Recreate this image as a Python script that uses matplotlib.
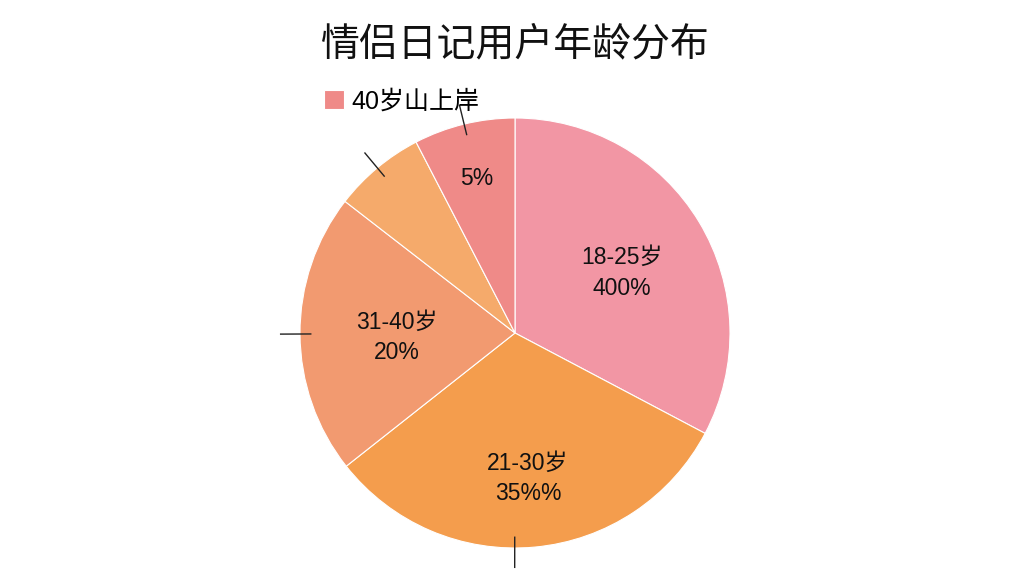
import numpy as np
import matplotlib
matplotlib.use('Agg')
import matplotlib.pyplot as plt

plt.rcParams['font.family'] = ['Liberation Sans', 'Noto Sans CJK SC', 'DejaVu Sans']

# slice shares (clockwise from 12 o'clock)
shares = [32.7, 31.6, 21.1, 6.9, 7.6]
# the texts printed inside the slices, as they appear
slice_texts = ['18-25岁\n400%', '21-30岁\n35%%', '31-40岁\n20%', '', '5%']
colors = ['#F296A4', '#F49D4D', '#F29A70', '#F5AA6B', '#EF8A88']
legend_label = '40岁山上岸'
title = '情侣日记用户年龄分布'

# how far out each inside label sits (fraction of radius)
text_radius = [0.58, 0.66, 0.55, 0.6, 0.76]
# rim ticks: which slices get one, and a small angle shift in degrees
has_tick = [False, True, True, True, True]
tick_shift = [0, -5.3, 0, 0, 0]

fig = plt.figure(figsize=(10.24, 5.76), dpi=100)
fig.patch.set_facecolor('white')

cx, cy, r = 515, 333, 215
ax = fig.add_axes([(cx - r) / 1024, (576 - cy - r) / 576, 2 * r / 1024, 2 * r / 576])

wedges, _ = ax.pie(shares, colors=colors, startangle=90, counterclock=False,
                   wedgeprops={'edgecolor': 'white', 'linewidth': 0.8})
ax.set_xlim(-1, 1)
ax.set_ylim(-1, 1)
ax.axis('off')

for w, txt, tr, tick, sh in zip(wedges, slice_texts, text_radius, has_tick, tick_shift):
    mid_deg = (w.theta1 + w.theta2) / 2
    mid = np.deg2rad(mid_deg)
    if txt:
        ax.text(tr * np.cos(mid), tr * np.sin(mid) - 0.02, txt, ha='center', va='center',
                fontsize=16.5, color='#111111', linespacing=1.4)
    if tick:
        t = np.deg2rad(mid_deg + sh)
        ax.plot([0.95 * np.cos(t), 1.09 * np.cos(t)],
                [0.95 * np.sin(t), 1.09 * np.sin(t)],
                color='#222222', linewidth=1, clip_on=False)

fig.legend([wedges[4]], [legend_label], loc='upper left',
           bbox_to_anchor=(301 / 1024, 1 - 67 / 576), frameon=False,
           fontsize=18, handlelength=0.8, handleheight=0.8, handletextpad=0.3)

fig.text(515 / 1024, 1 - 44 / 576, title, ha='center', va='center', fontsize=28,
         color='#111111', family=['Noto Sans CJK SC', 'DejaVu Sans'])

fig.savefig('out.png', dpi=100)
